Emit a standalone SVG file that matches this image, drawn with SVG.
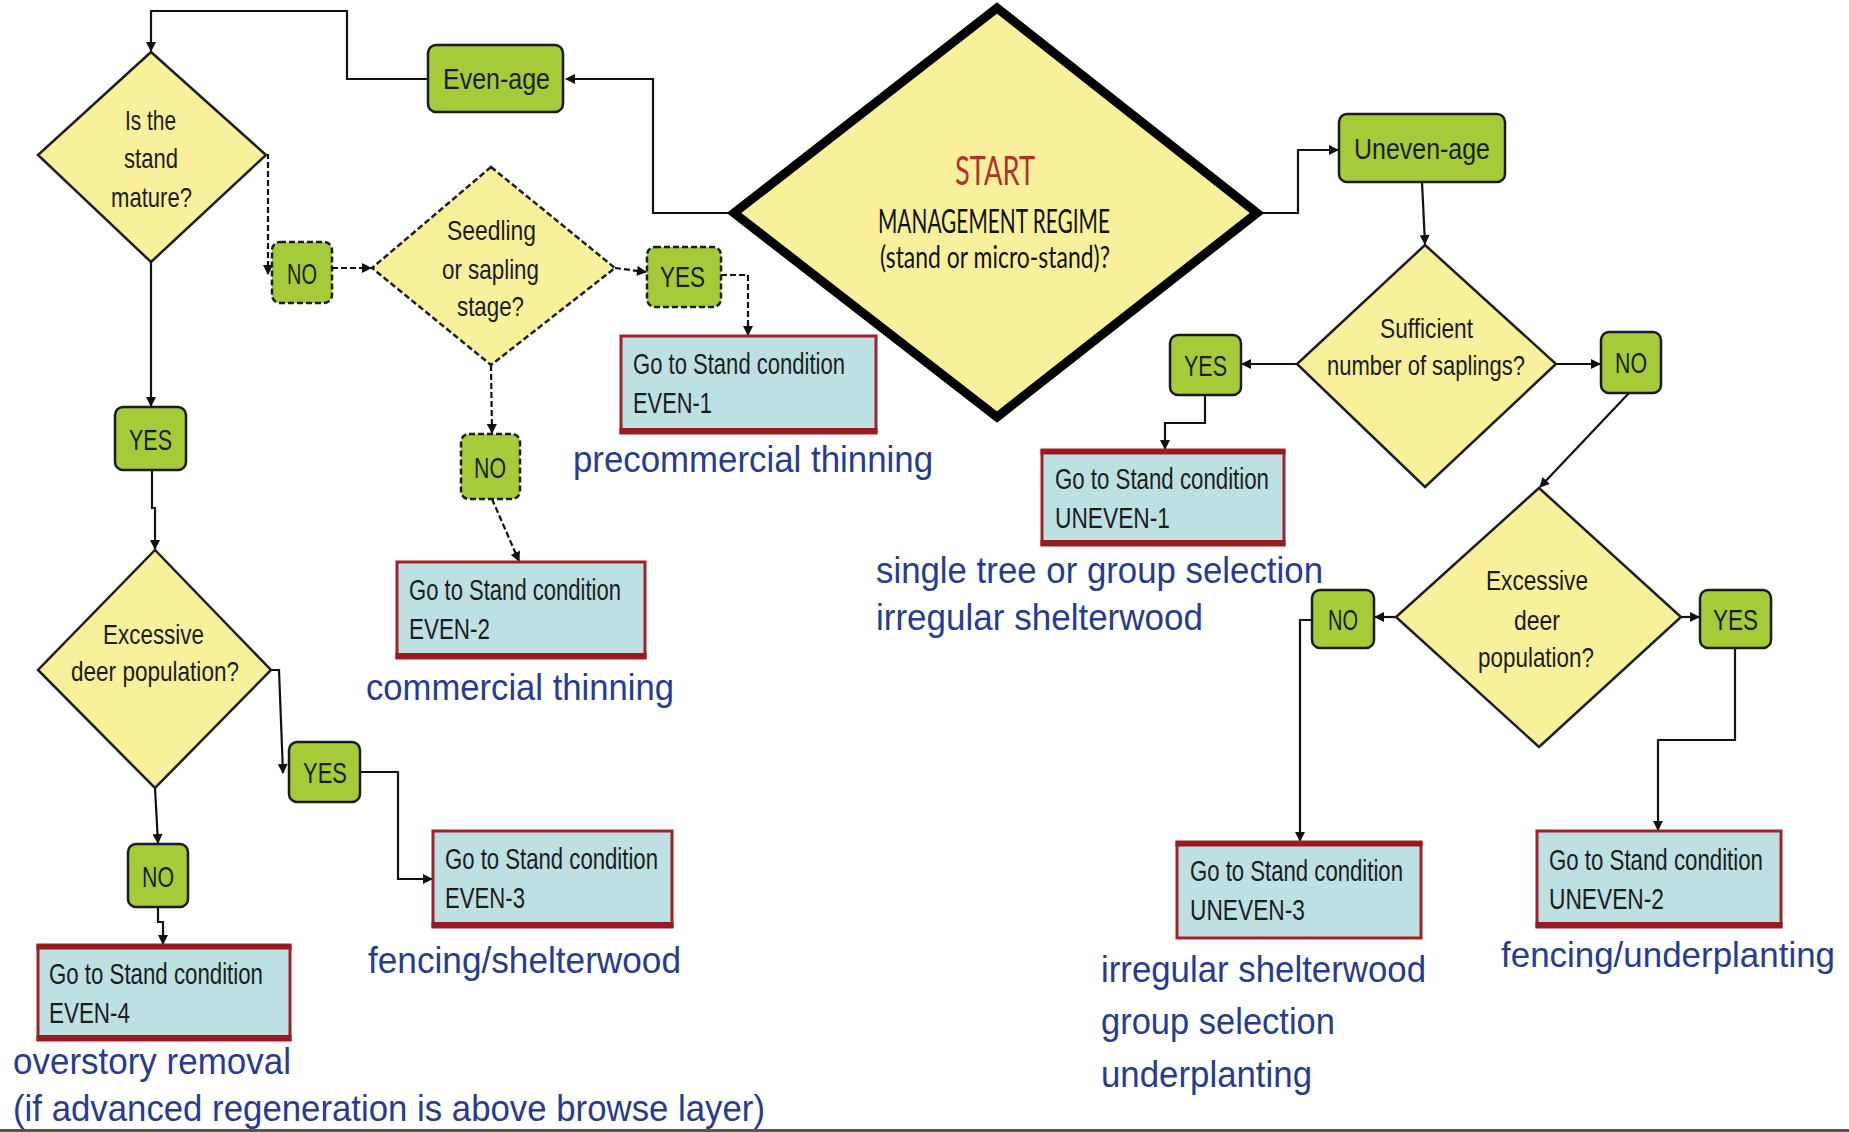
<svg xmlns="http://www.w3.org/2000/svg" width="1849" height="1132" viewBox="0 0 1849 1132">
<style>
.bg{fill:#ffffff}
.dia{fill:#f9f09b;stroke:#1e1e1e;stroke-width:2.5}
.dash{stroke-dasharray:6,3}
.start{fill:#f9f09b;stroke:#000;stroke-width:9;stroke-linejoin:miter}
.g{fill:#a5cc38;stroke:#1a1a1a;stroke-width:2.5}
.sc{fill:#bde0e3;stroke:#a0222a;stroke-width:3}
.scb{stroke:#961c22;stroke-width:6}
.lbl{font-family:"Liberation Sans",Arial,sans-serif;font-size:29px;fill:#1c1c1c}
.dt{font-family:"Liberation Sans",Arial,sans-serif;font-size:28px;fill:#1c1c1c}
.blue{font-family:"Liberation Sans",Arial,sans-serif;font-size:36px;fill:#293b8c}
.st{font-family:Lato,"Open Sans",sans-serif;fill:#111}
.c{fill:none;stroke:#111;stroke-width:2.2}
.cd{fill:none;stroke:#111;stroke-width:2.2;stroke-dasharray:6,3}
</style>
<defs>
<marker id="ah" viewBox="0 0 10 10" refX="9" refY="5" markerWidth="11" markerHeight="10" markerUnits="userSpaceOnUse" orient="auto">
<path d="M0,0 L10,5 L0,10 z" fill="#111"/>
</marker>
</defs>
<rect class="bg" x="0" y="0" width="1849" height="1132"/>

<g id="connectors">
<path class="c" d="M734,213 H653 V79 H566" marker-end="url(#ah)"/>
<path class="c" d="M428,79 H347 V11 H151 V51" marker-end="url(#ah)"/>
<path class="c" d="M151,262 V406" marker-end="url(#ah)"/>
<path class="cd" d="M266,155 H268 V274" marker-end="url(#ah)"/>
<path class="cd" d="M332,268 H371" marker-end="url(#ah)"/>
<path class="cd" d="M615,268 L646,272" marker-end="url(#ah)"/>
<path class="cd" d="M721,275 H748 V335" marker-end="url(#ah)"/>
<path class="cd" d="M491,365 L492,433" marker-end="url(#ah)"/>
<path class="cd" d="M492,499 L519,561" marker-end="url(#ah)"/>
<path class="c" d="M152,470 V508 H155 V549" marker-end="url(#ah)"/>
<path class="c" d="M271,670 H279 L283,773" marker-end="url(#ah)"/>
<path class="c" d="M360,772 H398 V879 H432" marker-end="url(#ah)"/>
<path class="c" d="M155,788 L158,843" marker-end="url(#ah)"/>
<path class="c" d="M158,907 V922 H163 V944" marker-end="url(#ah)"/>
<path class="c" d="M1261,213 H1298 V150 H1338" marker-end="url(#ah)"/>
<path class="c" d="M1422,182 L1425,244" marker-end="url(#ah)"/>
<path class="c" d="M1297,364 H1242" marker-end="url(#ah)"/>
<path class="c" d="M1205,395 V423 H1165 V449" marker-end="url(#ah)"/>
<path class="c" d="M1556,364 H1600" marker-end="url(#ah)"/>
<path class="c" d="M1629,393 L1540,487" marker-end="url(#ah)"/>
<path class="c" d="M1396,617 H1375" marker-end="url(#ah)"/>
<path class="c" d="M1312,620 H1300 V841" marker-end="url(#ah)"/>
<path class="c" d="M1681,617 H1699" marker-end="url(#ah)"/>
<path class="c" d="M1735,648 V740 H1658 V830" marker-end="url(#ah)"/>
</g>

<g id="start">
<polygon class="start" points="997,8 1257,213 997,417 734,213"/>
<text class="st" x="955" y="185" font-size="41" style="fill:#b3302b" textLength="80" lengthAdjust="spacingAndGlyphs">START</text>
<text class="st" x="878" y="233" font-size="32" textLength="232" lengthAdjust="spacingAndGlyphs">MANAGEMENT REGIME</text>
<text class="st" x="880" y="268" font-size="30" textLength="230" lengthAdjust="spacingAndGlyphs">(stand or micro-stand)?</text>
</g>

<g id="even-age">
<rect class="g" x="428" y="45" width="135" height="67" rx="8"/>
<text class="lbl" x="443" y="89" font-size="30" textLength="107" lengthAdjust="spacingAndGlyphs">Even-age</text>
</g>
<g id="uneven-age">
<rect class="g" x="1339" y="114" width="166" height="68" rx="8"/>
<text class="lbl" x="1354" y="159" font-size="30" textLength="136" lengthAdjust="spacingAndGlyphs">Uneven-age</text>
</g>

<g id="stand-mature">
<polygon class="dia" points="151,52 266,155 151,262 38,155"/>
<text class="dt" x="125" y="130" textLength="51" lengthAdjust="spacingAndGlyphs">Is the</text>
<text class="dt" x="124" y="168" textLength="54" lengthAdjust="spacingAndGlyphs">stand</text>
<text class="dt" x="111" y="207" textLength="81" lengthAdjust="spacingAndGlyphs">mature?</text>
</g>

<g id="no-1">
<rect class="g dash" x="272" y="242" width="60" height="61" rx="8"/>
<text class="lbl" x="287" y="284" font-size="30" textLength="30" lengthAdjust="spacingAndGlyphs">NO</text>
</g>

<g id="seedling">
<polygon class="dia dash" points="491,167 615,268 491,365 372,268"/>
<text class="dt" x="447" y="240" textLength="89" lengthAdjust="spacingAndGlyphs">Seedling</text>
<text class="dt" x="442" y="279" textLength="97" lengthAdjust="spacingAndGlyphs">or sapling</text>
<text class="dt" x="457" y="316" textLength="67" lengthAdjust="spacingAndGlyphs">stage?</text>
</g>

<g id="yes-even1">
<rect class="g dash" x="647" y="247" width="74" height="60" rx="8"/>
<text class="lbl" x="660" y="287" font-size="30" textLength="45" lengthAdjust="spacingAndGlyphs">YES</text>
</g>

<g id="no-2">
<rect class="g dash" x="461" y="434" width="59" height="65" rx="8"/>
<text class="lbl" x="474" y="478" font-size="30" textLength="32" lengthAdjust="spacingAndGlyphs">NO</text>
</g>

<g id="yes-mature">
<rect class="g" x="115" y="407" width="71" height="63" rx="8"/>
<text class="lbl" x="129" y="450" font-size="30" textLength="43" lengthAdjust="spacingAndGlyphs">YES</text>
</g>

<g id="deer-even">
<polygon class="dia" points="155,550 271,670 155,788 38,670"/>
<text class="dt" x="103" y="644" textLength="101" lengthAdjust="spacingAndGlyphs">Excessive</text>
<text class="dt" x="71" y="681" textLength="168" lengthAdjust="spacingAndGlyphs">deer population?</text>
</g>

<g id="yes-deer-even">
<rect class="g" x="289" y="742" width="71" height="60" rx="8"/>
<text class="lbl" x="303" y="783" font-size="30" textLength="44" lengthAdjust="spacingAndGlyphs">YES</text>
</g>

<g id="no-deer-even">
<rect class="g" x="128" y="844" width="60" height="63" rx="8"/>
<text class="lbl" x="142" y="887" font-size="30" textLength="32" lengthAdjust="spacingAndGlyphs">NO</text>
</g>

<g id="even-1">
<rect class="sc" x="621" y="336" width="255" height="97"/>
<line class="scb" x1="619.5" y1="431" x2="877.5" y2="431"/>
<text class="lbl" x="633" y="374" textLength="212" lengthAdjust="spacingAndGlyphs">Go to Stand condition</text>
<text class="lbl" x="633" y="413" textLength="79" lengthAdjust="spacingAndGlyphs">EVEN-1</text>
</g>
<g id="even-2">
<rect class="sc" x="397" y="562" width="248" height="96"/>
<line class="scb" x1="395.5" y1="656" x2="646.5" y2="656"/>
<text class="lbl" x="409" y="600" textLength="212" lengthAdjust="spacingAndGlyphs">Go to Stand condition</text>
<text class="lbl" x="409" y="639" textLength="81" lengthAdjust="spacingAndGlyphs">EVEN-2</text>
</g>
<g id="even-3">
<rect class="sc" x="433" y="831" width="239" height="96"/>
<line class="scb" x1="431.5" y1="925" x2="673.5" y2="925"/>
<text class="lbl" x="445" y="869" textLength="213" lengthAdjust="spacingAndGlyphs">Go to Stand condition</text>
<text class="lbl" x="445" y="908" textLength="80" lengthAdjust="spacingAndGlyphs">EVEN-3</text>
</g>
<g id="even-4">
<rect class="sc" x="38" y="945" width="252" height="95"/>
<line class="scb" x1="36.5" y1="1038" x2="291.5" y2="1038"/>
<line class="scb" x1="36.5" y1="947" x2="291.5" y2="947" style="stroke-width:5"/>
<text class="lbl" x="49" y="984" textLength="214" lengthAdjust="spacingAndGlyphs">Go to Stand condition</text>
<text class="lbl" x="49" y="1023" textLength="81" lengthAdjust="spacingAndGlyphs">EVEN-4</text>
</g>

<g id="sufficient">
<polygon class="dia" points="1425,245 1556,364 1425,487 1297,364"/>
<text class="dt" x="1380" y="338" textLength="93" lengthAdjust="spacingAndGlyphs">Sufficient</text>
<text class="dt" x="1327" y="375" textLength="198" lengthAdjust="spacingAndGlyphs">number of saplings?</text>
</g>

<g id="yes-sufficient">
<rect class="g" x="1170" y="335" width="71" height="60" rx="8"/>
<text class="lbl" x="1184" y="376" font-size="30" textLength="43" lengthAdjust="spacingAndGlyphs">YES</text>
</g>
<g id="no-sufficient">
<rect class="g" x="1601" y="332" width="60" height="61" rx="8"/>
<text class="lbl" x="1615" y="373" font-size="30" textLength="32" lengthAdjust="spacingAndGlyphs">NO</text>
</g>

<g id="uneven-1">
<rect class="sc" x="1042" y="450" width="242" height="95"/>
<line class="scb" x1="1040.5" y1="543" x2="1285.5" y2="543"/>
<line class="scb" x1="1040.5" y1="452" x2="1285.5" y2="452" style="stroke-width:5"/>
<text class="lbl" x="1055" y="489" textLength="214" lengthAdjust="spacingAndGlyphs">Go to Stand condition</text>
<text class="lbl" x="1055" y="528" textLength="115" lengthAdjust="spacingAndGlyphs">UNEVEN-1</text>
</g>

<g id="deer-uneven">
<polygon class="dia" points="1539,488 1681,617 1539,747 1396,617"/>
<text class="dt" x="1486" y="590" textLength="102" lengthAdjust="spacingAndGlyphs">Excessive</text>
<text class="dt" x="1514" y="630" textLength="46" lengthAdjust="spacingAndGlyphs">deer</text>
<text class="dt" x="1478" y="667" textLength="116" lengthAdjust="spacingAndGlyphs">population?</text>
</g>

<g id="no-deer-uneven">
<rect class="g" x="1312" y="590" width="62" height="58" rx="8"/>
<text class="lbl" x="1328" y="630" font-size="30" textLength="30" lengthAdjust="spacingAndGlyphs">NO</text>
</g>
<g id="yes-deer-uneven">
<rect class="g" x="1700" y="590" width="71" height="58" rx="8"/>
<text class="lbl" x="1713" y="630" font-size="30" textLength="45" lengthAdjust="spacingAndGlyphs">YES</text>
</g>

<g id="uneven-3">
<rect class="sc" x="1177" y="842" width="244" height="96"/>
<line class="scb" x1="1175.5" y1="844" x2="1422.5" y2="844" style="stroke-width:5"/>
<text class="lbl" x="1190" y="881" textLength="213" lengthAdjust="spacingAndGlyphs">Go to Stand condition</text>
<text class="lbl" x="1190" y="920" textLength="115" lengthAdjust="spacingAndGlyphs">UNEVEN-3</text>
</g>
<g id="uneven-2">
<rect class="sc" x="1537" y="831" width="244" height="96"/>
<line class="scb" x1="1535.5" y1="925" x2="1782.5" y2="925"/>
<text class="lbl" x="1549" y="870" textLength="214" lengthAdjust="spacingAndGlyphs">Go to Stand condition</text>
<text class="lbl" x="1549" y="909" textLength="115" lengthAdjust="spacingAndGlyphs">UNEVEN-2</text>
</g>

<g id="annotations">
<text class="blue" x="573" y="472" textLength="360" lengthAdjust="spacingAndGlyphs">precommercial thinning</text>
<text class="blue" x="876" y="583" textLength="447" lengthAdjust="spacingAndGlyphs">single tree or group selection</text>
<text class="blue" x="876" y="630" textLength="327" lengthAdjust="spacingAndGlyphs">irregular shelterwood</text>
<text class="blue" x="366" y="700" textLength="308" lengthAdjust="spacingAndGlyphs">commercial thinning</text>
<text class="blue" x="368" y="973" textLength="313" lengthAdjust="spacingAndGlyphs">fencing/shelterwood</text>
<text class="blue" x="13" y="1074" textLength="278" lengthAdjust="spacingAndGlyphs">overstory removal</text>
<text class="blue" x="13" y="1121" textLength="752" lengthAdjust="spacingAndGlyphs">(if advanced regeneration is above browse layer)</text>
<text class="blue" x="1501" y="967" font-size="35" style="font-size:35px" textLength="334" lengthAdjust="spacingAndGlyphs">fencing/underplanting</text>
<text class="blue" x="1101" y="982" textLength="325" lengthAdjust="spacingAndGlyphs">irregular shelterwood</text>
<text class="blue" x="1101" y="1034" textLength="234" lengthAdjust="spacingAndGlyphs">group selection</text>
<text class="blue" x="1101" y="1087" textLength="211" lengthAdjust="spacingAndGlyphs">underplanting</text>
</g>

<line x1="0" y1="1130.5" x2="1849" y2="1130.5" stroke="#555" stroke-width="3"/>
</svg>
